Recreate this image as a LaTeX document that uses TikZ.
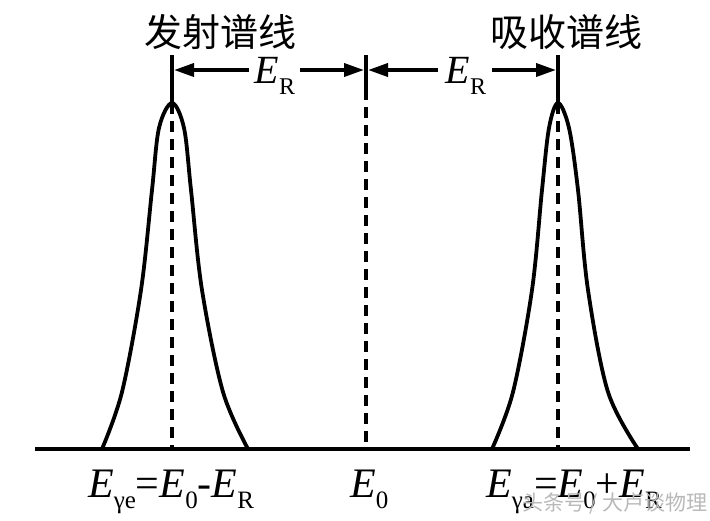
\documentclass[tikz,border=0pt]{standalone}
\usepackage{fontspec}
\setmainfont{Liberation Serif}
\newfontfamily\cjk{Noto Sans CJK SC}
\usetikzlibrary{arrows.meta}
\newcommand{\symE}[2]{\textit{E}\raisebox{-0.28em}{\fontsize{#2}{#2}\selectfont #1}}
\tikzset{
  peak/.style={line width=3.8pt, line join=round},
  base/.style={line width=4pt},
  tickline/.style={line width=3.5pt},
  dashline/.style={line width=3.2pt, dash pattern=on 11pt off 7pt},
  dimarrow/.style={line width=3.6pt, -{Triangle[length=20pt,width=13pt]}},
  title/.style={font=\cjk\fontsize{38}{40}\selectfont, inner sep=0pt},
  elabel/.style={font=\fontsize{40}{42}\selectfont, inner sep=0pt},
  blabel/.style={font=\fontsize{42}{44}\selectfont, inner sep=0pt, anchor=base west},
  wmark/.style={font=\cjk\fontsize{21}{22}\selectfont, text=gray!55, inner sep=0pt, anchor=base west}
}
\begin{document}
\begin{tikzpicture}[x=1pt,y=-1pt]
\useasboundingbox (0,0) rectangle (710,520);
% coordinates
\coordinate (Ltop) at (172,55);
\coordinate (Lpk) at (172,103);
\coordinate (Lbot) at (172,449);
\coordinate (Ctop) at (366,55);
\coordinate (Cmid) at (366,97);
\coordinate (Cbot) at (366,449);
\coordinate (Rtop) at (558,55);
\coordinate (Rpk) at (558,103);
\coordinate (Rbot) at (558,449);
\coordinate (B0) at (35,449);
\coordinate (B1) at (690,449);
% baseline
\draw[base] (B0) -- (B1);
% peaks
\draw[peak] plot[smooth, tension=0.55] coordinates {(102,449) (122,392) (141,290) (152,190) (159,128) (172,103) (184,128) (191,190) (202,290) (223,392) (248,449)};
\draw[peak] plot[smooth, tension=0.55] coordinates {(492,449) (513,392) (532,290) (542,190) (549,128) (558,103) (569,128) (578,190) (588,290) (608,392) (638,449)};
% vertical lines
\draw[tickline] (Ltop) -- (Lpk);
\draw[dashline] (Lpk) -- (Lbot);
\draw[tickline] (Ctop) -- (Cmid);
\draw[dashline] ([yshift=8pt]Cmid) -- (Cbot);
\draw[tickline] (Rtop) -- (Rpk);
\draw[dashline] (Rpk) -- (Rbot);
% titles
\node[title] (t1) at (220,32) {发射谱线};
\node[title] (t2) at (566,32) {吸收谱线};
% E_R labels with arrows
\node[elabel] (er1) at (275,76) {\symE{R}{24}};
\node[elabel] (er2) at (466,76) {\symE{R}{24}};
\coordinate (a1) at (249,70);
\coordinate (a2) at (300,70);
\coordinate (a3) at (438,70);
\coordinate (a4) at (492,70);
\draw[dimarrow] (a1) -- ([xshift=2pt]Ltop |- a1);
\draw[dimarrow] (a2) -- ([xshift=-2pt]Ctop |- a2);
\draw[dimarrow] (a3) -- ([xshift=2pt]Ctop |- a3);
\draw[dimarrow] (a4) -- ([xshift=-2pt]Rtop |- a4);
% bottom labels
\node[blabel] (bl) at (88,497) {\symE{γe}{25}=\symE{0}{25}-\symE{R}{25}};
\node[blabel] (bm) at (350,497) {\symE{0}{25}};
\node[blabel] (br) at (486,497) {\symE{γa}{25}=\symE{0}{25}+\symE{R}{25}};
\node[wmark] (wm) at (522,510) {头条号 / 大卢谈物理};
\end{tikzpicture}
\end{document}
